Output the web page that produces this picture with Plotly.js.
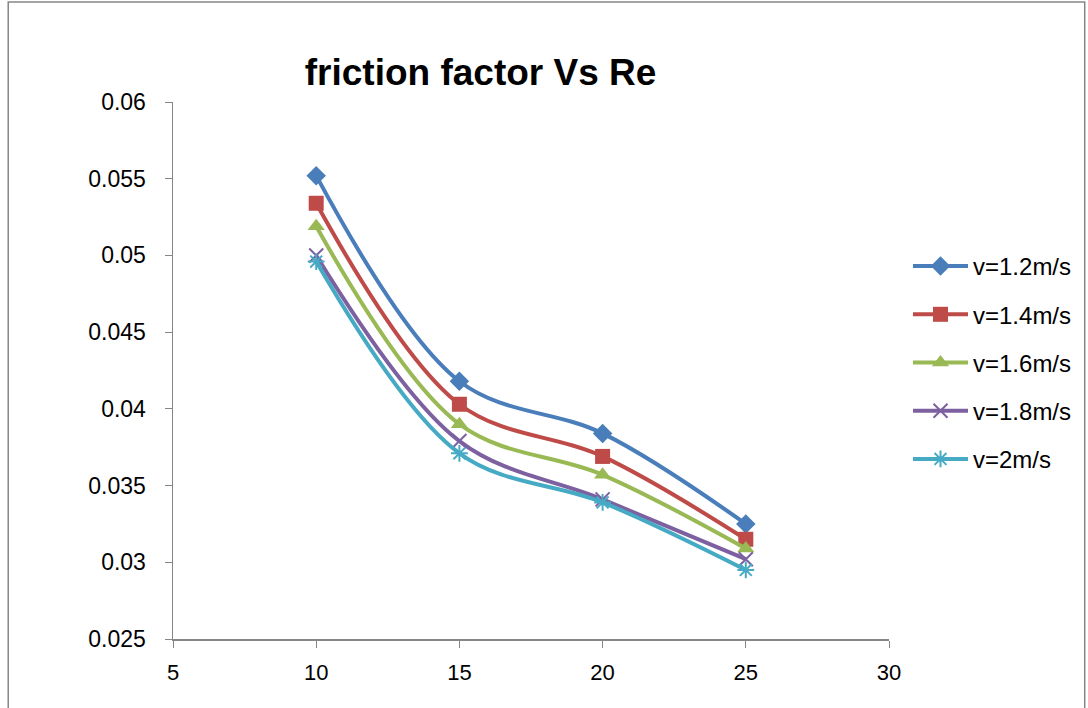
<!DOCTYPE html>
<html>
<head>
<meta charset="utf-8">
<script src="https://cdn.plot.ly/plotly-3.0.1.min.js"></script>
<style>html,body{margin:0;padding:0;background:#fff;}#chart{width:1088px;height:708px;}</style>
</head>
<body>
<div id="chart"></div>
<script>
const re = [10, 15, 20, 25];
const names = ["v=1.2m/s", "v=1.4m/s", "v=1.6m/s", "v=1.8m/s", "v=2m/s"];
const f12 = [0.0552, 0.0418, 0.0384, 0.0325];
const f14 = [0.0534, 0.0403, 0.0369, 0.0315];
const f16 = [0.0519, 0.0390, 0.0357, 0.0309];
const f18 = [0.0500, 0.0379, 0.0341, 0.0302];
const f20 = [0.0496, 0.0371, 0.0339, 0.0295];

const series = [f12, f14, f16, f18, f20];
const colors = ["#4a7ebb", "#be4b48", "#98b954", "#7d60a0", "#46aac5"];
const symbols = ["diamond", "square", "triangle-up", "x-thin-open", "asterisk-open"];
const sizes = [15, 15, 15, 14, 14];

const traces = series.map((ys, i) => ({
  x: re, y: ys, name: names[i], type: "scatter", mode: "lines+markers",
  legendgroup: "g" + i,
  line: {color: colors[i], width: 4, shape: "spline", smoothing: 1},
  marker: {symbol: symbols[i], size: sizes[i], color: colors[i],
           line: {color: colors[i], width: (i >= 3 ? 2 : 0)}}
}));

const X0 = 173, X1 = 890, Y0 = 102, Y1 = 639;
const pw = X1 - X0, ph = Y1 - Y0;
const px = p => (p - X0) / pw;
const py = p => (Y1 - p) / ph;

const layout = {
  width: 1088, height: 708,
  margin: {l: X0, r: 1088 - X1, t: Y0, b: 708 - Y1},
  paper_bgcolor: "#fff", plot_bgcolor: "#fff",
  font: {family: "Liberation Sans, Arial, sans-serif", size: 22, color: "#000"},
  title: {text: "<b>friction factor Vs Re</b>", font: {size: 37, color: "#000"},
          xref: "paper", x: px(481), xanchor: "center", yref: "container", y: 1 - 72/708, yanchor: "middle"},
  xaxis: {range: [5, 30], dtick: 5, tick0: 5, showgrid: false, zeroline: false,
          showline: true, linecolor: "#868686", linewidth: 1.5,
          ticks: "outside", ticklen: 7, tickcolor: "#868686", tickwidth: 1,
          ticklabelstandoff: 6,
          tickfont: {size: 22}, fixedrange: true},
  yaxis: {range: [0.025, 0.06], dtick: 0.005, tick0: 0.025, showgrid: false, zeroline: false,
          showline: true, linecolor: "#868686", linewidth: 1.5,
          ticks: "outside", ticklen: 7, tickcolor: "#868686", tickwidth: 1,
          ticklabelstandoff: 14,
          tickfont: {size: 23}, fixedrange: true},
  legend: {x: px(908), xanchor: "left", y: py(244), yanchor: "top",
           font: {size: 24}, itemwidth: 55, tracegroupgap: 14, bgcolor: "rgba(0,0,0,0)"},
  shapes: [{type: "rect", xref: "paper", yref: "paper",
            x0: px(8), x1: px(1086), y0: py(730), y1: py(2),
            line: {color: "#868686", width: 1.5}}],
  showlegend: true
};

Plotly.newPlot("chart", traces, layout, {displayModeBar: false, staticPlot: true});
</script>
</body>
</html>
